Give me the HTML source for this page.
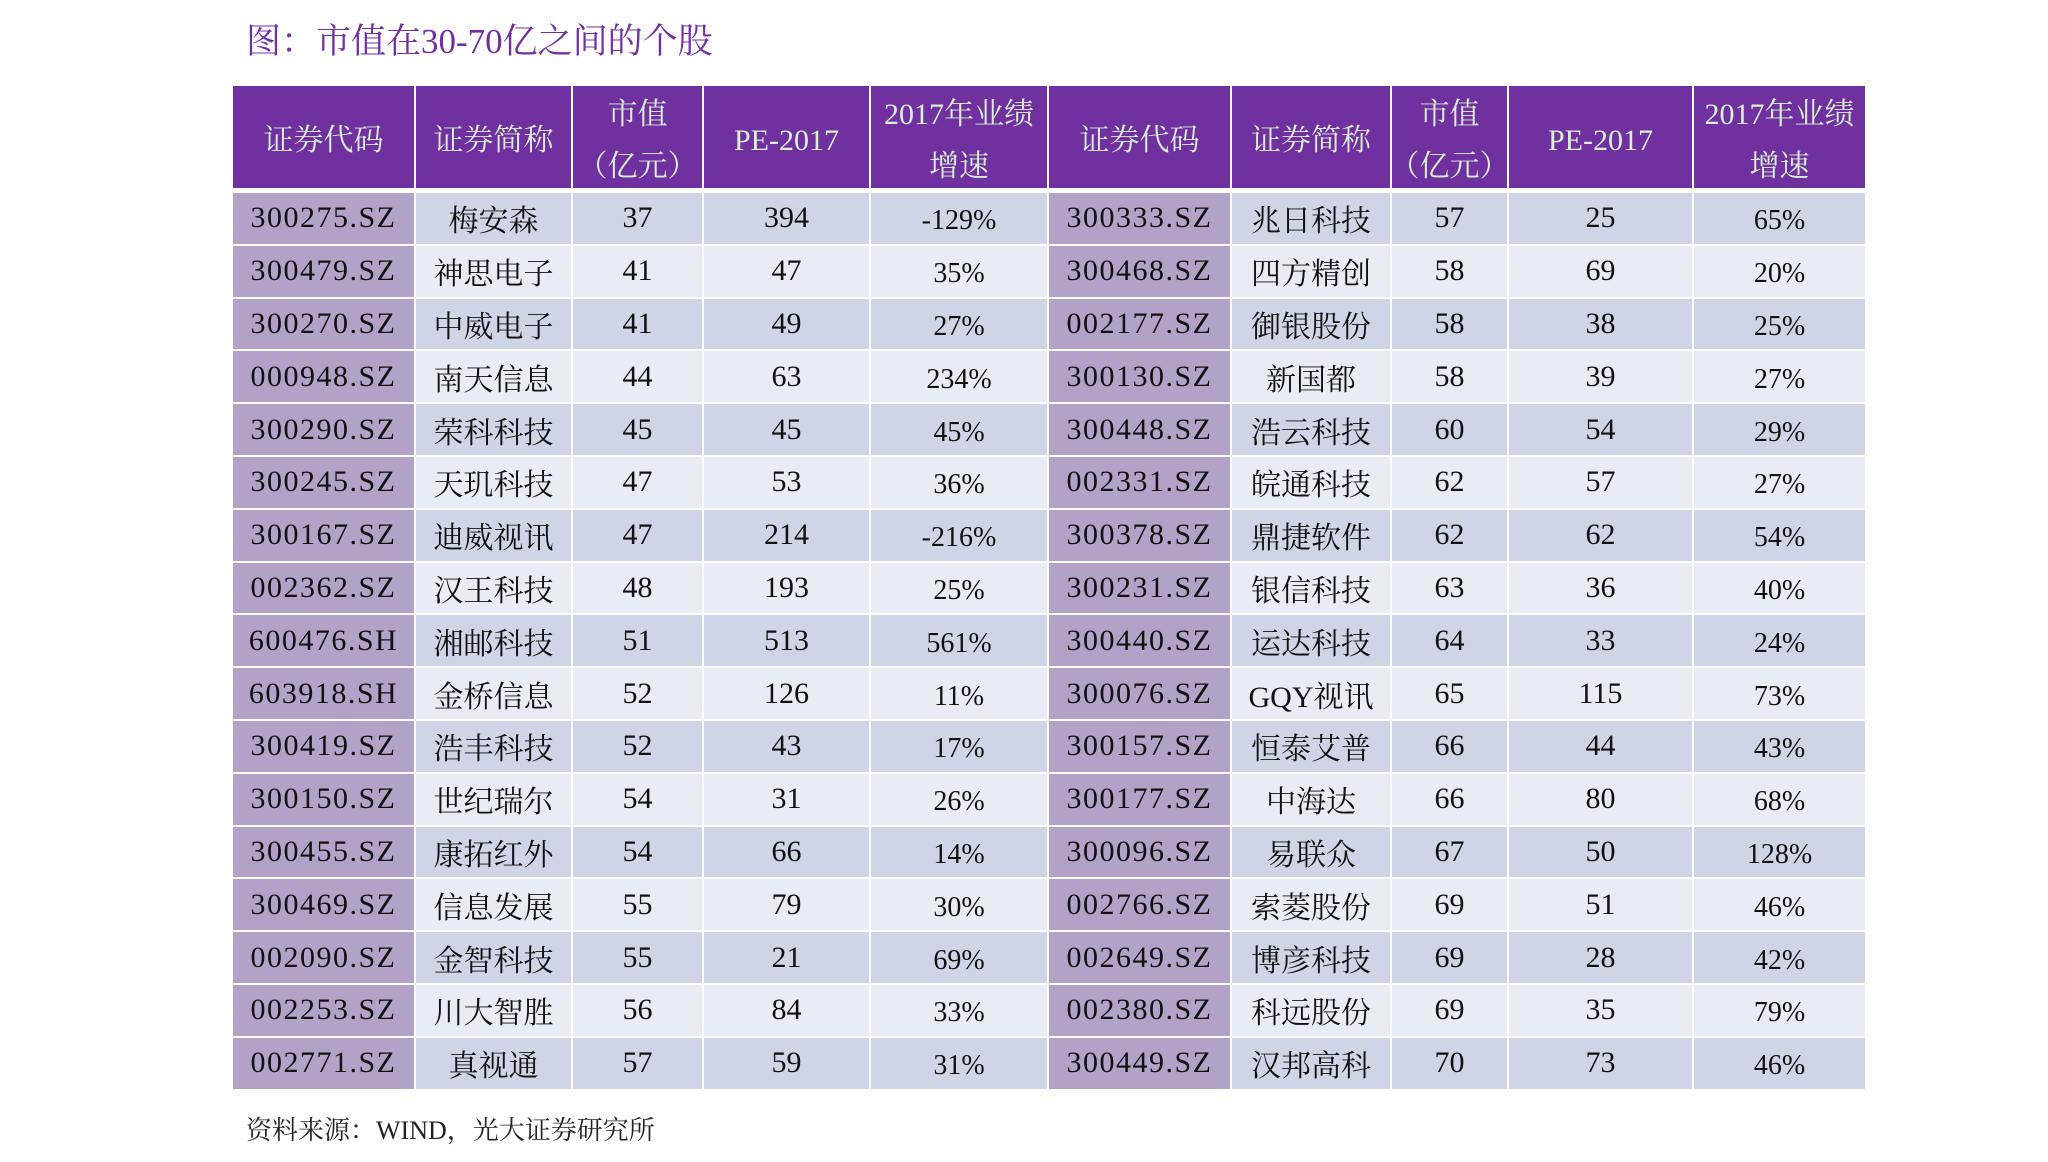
<!DOCTYPE html>
<html><head><meta charset="utf-8">
<style>
body{margin:0;width:2048px;height:1162px;background:#fff;position:relative;overflow:hidden;font-family:"Liberation Serif","Noto Serif CJK SC",serif;}
#title{position:absolute;left:246px;top:14px;font-size:35px;color:#7030a0;}
#foot{position:absolute;left:246px;top:1110px;font-size:26px;color:#222;}
.c{position:absolute;box-sizing:border-box;border-right:2px solid #fff;border-bottom:2px solid #fff;display:flex;align-items:center;justify-content:center;text-align:center;font-size:30px;color:#111;white-space:nowrap;}
.h{background:#7030a0;color:#d9eed3;line-height:52px;font-size:30px;padding-top:8px;}
</style></head><body>
<div id="title">图：市值在30-70亿之间的个股</div>
<div id="tbl"></div>
<div id="foot">资料来源：WIND，光大证券研究所</div>
<script>
const headers=["证券代码","证券简称","市值<br>（亿元）","PE-2017","2017年业绩<br>增速"];
const codesL=["300275.SZ","300479.SZ","300270.SZ","000948.SZ","300290.SZ","300245.SZ","300167.SZ","002362.SZ","600476.SH","603918.SH","300419.SZ","300150.SZ","300455.SZ","300469.SZ","002090.SZ","002253.SZ","002771.SZ"];
const namesL=["梅安森","神思电子","中威电子","南天信息","荣科科技","天玑科技","迪威视讯","汉王科技","湘邮科技","金桥信息","浩丰科技","世纪瑞尔","康拓红外","信息发展","金智科技","川大智胜","真视通"];
const capL=[37,41,41,44,45,47,47,48,51,52,52,54,54,55,55,56,57];
const peL=[394,47,49,63,45,53,214,193,513,126,43,31,66,79,21,84,59];
const grL=["-129%","35%","27%","234%","45%","36%","-216%","25%","561%","11%","17%","26%","14%","30%","69%","33%","31%"];
const codesR=["300333.SZ","300468.SZ","002177.SZ","300130.SZ","300448.SZ","002331.SZ","300378.SZ","300231.SZ","300440.SZ","300076.SZ","300157.SZ","300177.SZ","300096.SZ","002766.SZ","002649.SZ","002380.SZ","300449.SZ"];
const namesR=["兆日科技","四方精创","御银股份","新国都","浩云科技","皖通科技","鼎捷软件","银信科技","运达科技","GQY视讯","恒泰艾普","中海达","易联众","索菱股份","博彦科技","科远股份","汉邦高科"];
const capR=[57,58,58,58,60,62,62,63,64,65,66,66,67,69,69,69,70];
const peR=[25,69,38,39,54,57,62,36,33,115,44,80,50,51,28,35,73];
const grR=["65%","20%","25%","27%","29%","27%","54%","40%","24%","73%","43%","68%","128%","46%","42%","79%","46%"];
const xs=[233,416,573,704,871,1049,1232,1392,1509,1694,1867];
const tbl=document.getElementById('tbl');
function cell(x,y,w,h,html,bg,cls){const d=document.createElement('div');d.className='c '+(cls||'');d.style.left=x+'px';d.style.top=y+'px';d.style.width=w+'px';d.style.height=h+'px';if(bg)d.style.background=bg;d.innerHTML=html;tbl.appendChild(d);return d;}
for(let i=0;i<10;i++){const d=cell(xs[i],86,xs[i+1]-xs[i],104,headers[i%5],null,'h');

}
const rowH=52.8,y0=193;
for(let r=0;r<17;r++){
 const y=y0+r*rowH;const bg=r%2?'#e8ecf4':'#cfd5e6';
 const vals=[codesL[r],namesL[r],capL[r],peL[r],grL[r],codesR[r],namesR[r],capR[r],peR[r],grR[r]];
 for(let i=0;i<10;i++){
  const b=(i%5==0)?'#b2a2c7':bg;
  const d=cell(xs[i],y,xs[i+1]-xs[i],rowH,String(vals[i]),b);
  if(i%5==4){d.style.paddingTop='6px';d.style.fontSize='28px';}
  if(i%5==0){d.style.letterSpacing='1.5px';}
  
  
 }
}
</script>
</body></html>
